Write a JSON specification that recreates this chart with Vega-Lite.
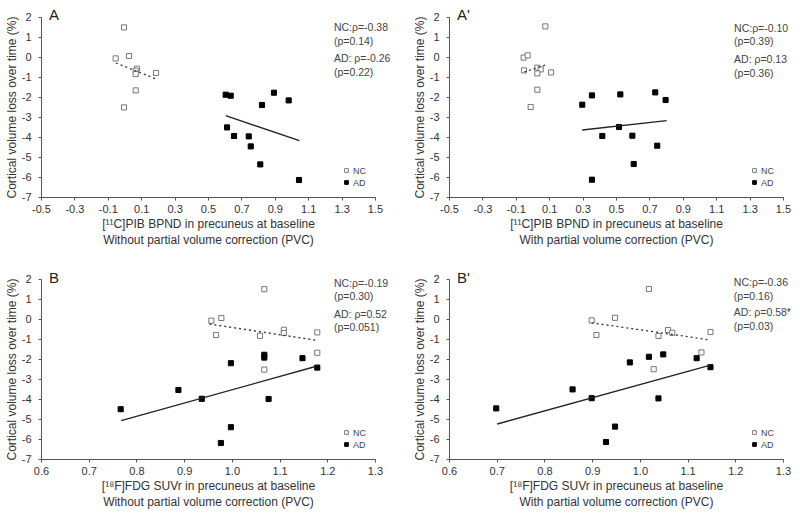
{
  "$schema": "https://vega.github.io/schema/vega-lite/v6.json",
  "background": "white",
  "padding": {"left": 5, "top": 8, "right": 5, "bottom": 5},
  "columns": 2,
  "bounds": "flush",
  "spacing": {"row": 82, "column": 74},
  "datasets": {
    "pts": [
      {"p": "A", "g": "NC", "x": -0.003, "y": 1.48},
      {"p": "A", "g": "NC", "x": -0.053, "y": -0.07},
      {"p": "A", "g": "NC", "x": 0.027, "y": 0.05},
      {"p": "A", "g": "NC", "x": 0.075, "y": -0.585},
      {"p": "A", "g": "NC", "x": 0.067, "y": -0.685},
      {"p": "A", "g": "NC", "x": 0.067, "y": -0.85},
      {"p": "A", "g": "NC", "x": 0.189, "y": -0.8},
      {"p": "A", "g": "NC", "x": 0.067, "y": -1.67},
      {"p": "A", "g": "NC", "x": -0.003, "y": -2.52},
      {"p": "A", "g": "AD", "x": 0.606, "y": -1.885},
      {"p": "A", "g": "AD", "x": 0.636, "y": -1.935},
      {"p": "A", "g": "AD", "x": 0.823, "y": -2.4},
      {"p": "A", "g": "AD", "x": 0.895, "y": -1.785},
      {"p": "A", "g": "AD", "x": 0.983, "y": -2.17},
      {"p": "A", "g": "AD", "x": 0.614, "y": -3.52},
      {"p": "A", "g": "AD", "x": 0.656, "y": -3.95},
      {"p": "A", "g": "AD", "x": 0.744, "y": -3.97},
      {"p": "A", "g": "AD", "x": 0.756, "y": -4.47},
      {"p": "A", "g": "AD", "x": 0.813, "y": -5.37},
      {"p": "A", "g": "AD", "x": 1.045, "y": -6.15},
      {"p": "A2", "g": "NC", "x": 0.077, "y": 1.53},
      {"p": "A2", "g": "NC", "x": -0.053, "y": -0.03},
      {"p": "A2", "g": "NC", "x": -0.029, "y": 0.08},
      {"p": "A2", "g": "NC", "x": -0.051, "y": -0.67},
      {"p": "A2", "g": "NC", "x": 0.029, "y": -0.535},
      {"p": "A2", "g": "NC", "x": 0.049, "y": -0.62},
      {"p": "A2", "g": "NC", "x": 0.029, "y": -0.82},
      {"p": "A2", "g": "NC", "x": 0.111, "y": -0.77},
      {"p": "A2", "g": "NC", "x": 0.029, "y": -1.635},
      {"p": "A2", "g": "NC", "x": -0.011, "y": -2.5},
      {"p": "A2", "g": "AD", "x": 0.298, "y": -2.385},
      {"p": "A2", "g": "AD", "x": 0.356, "y": -1.92},
      {"p": "A2", "g": "AD", "x": 0.526, "y": -1.87},
      {"p": "A2", "g": "AD", "x": 0.735, "y": -1.77},
      {"p": "A2", "g": "AD", "x": 0.797, "y": -2.15},
      {"p": "A2", "g": "AD", "x": 0.518, "y": -3.5},
      {"p": "A2", "g": "AD", "x": 0.418, "y": -3.95},
      {"p": "A2", "g": "AD", "x": 0.598, "y": -3.935},
      {"p": "A2", "g": "AD", "x": 0.747, "y": -4.435},
      {"p": "A2", "g": "AD", "x": 0.606, "y": -5.35},
      {"p": "A2", "g": "AD", "x": 0.356, "y": -6.135},
      {"p": "B", "g": "NC", "x": 1.068, "y": 1.49},
      {"p": "B", "g": "NC", "x": 0.957, "y": -0.085},
      {"p": "B", "g": "NC", "x": 0.978, "y": 0.05},
      {"p": "B", "g": "NC", "x": 0.967, "y": -0.8},
      {"p": "B", "g": "NC", "x": 1.059, "y": -0.84},
      {"p": "B", "g": "NC", "x": 1.109, "y": -0.54},
      {"p": "B", "g": "NC", "x": 1.109, "y": -0.7},
      {"p": "B", "g": "NC", "x": 1.179, "y": -0.67},
      {"p": "B", "g": "NC", "x": 1.179, "y": -1.69},
      {"p": "B", "g": "NC", "x": 1.068, "y": -2.53},
      {"p": "B", "g": "AD", "x": 0.767, "y": -4.51},
      {"p": "B", "g": "AD", "x": 0.888, "y": -3.55},
      {"p": "B", "g": "AD", "x": 0.937, "y": -3.99},
      {"p": "B", "g": "AD", "x": 0.998, "y": -2.21},
      {"p": "B", "g": "AD", "x": 0.998, "y": -5.41},
      {"p": "B", "g": "AD", "x": 0.977, "y": -6.2},
      {"p": "B", "g": "AD", "x": 1.068, "y": -1.79},
      {"p": "B", "g": "AD", "x": 1.068, "y": -1.93},
      {"p": "B", "g": "AD", "x": 1.148, "y": -1.96},
      {"p": "B", "g": "AD", "x": 1.179, "y": -2.43},
      {"p": "B", "g": "AD", "x": 1.077, "y": -4.0},
      {"p": "B2", "g": "NC", "x": 1.019, "y": 1.5},
      {"p": "B2", "g": "NC", "x": 0.899, "y": -0.07},
      {"p": "B2", "g": "NC", "x": 0.948, "y": 0.06},
      {"p": "B2", "g": "NC", "x": 0.909, "y": -0.8},
      {"p": "B2", "g": "NC", "x": 1.039, "y": -0.85},
      {"p": "B2", "g": "NC", "x": 1.059, "y": -0.55},
      {"p": "B2", "g": "NC", "x": 1.068, "y": -0.69},
      {"p": "B2", "g": "NC", "x": 1.148, "y": -0.65},
      {"p": "B2", "g": "NC", "x": 1.129, "y": -1.67},
      {"p": "B2", "g": "NC", "x": 1.029, "y": -2.51},
      {"p": "B2", "g": "AD", "x": 0.699, "y": -4.47},
      {"p": "B2", "g": "AD", "x": 0.859, "y": -3.52},
      {"p": "B2", "g": "AD", "x": 0.899, "y": -3.96},
      {"p": "B2", "g": "AD", "x": 0.979, "y": -2.17},
      {"p": "B2", "g": "AD", "x": 0.948, "y": -5.38},
      {"p": "B2", "g": "AD", "x": 0.929, "y": -6.15},
      {"p": "B2", "g": "AD", "x": 1.019, "y": -1.89},
      {"p": "B2", "g": "AD", "x": 1.049, "y": -1.77},
      {"p": "B2", "g": "AD", "x": 1.119, "y": -1.96},
      {"p": "B2", "g": "AD", "x": 1.148, "y": -2.41},
      {"p": "B2", "g": "AD", "x": 1.039, "y": -3.97}
    ],
    "fits": [
      {"p": "A", "g": "NC", "x": -0.051, "y": -0.3},
      {"p": "A", "g": "NC", "x": 0.189, "y": -1.1},
      {"p": "A", "g": "AD", "x": 0.606, "y": -2.935},
      {"p": "A", "g": "AD", "x": 1.047, "y": -4.185},
      {"p": "A2", "g": "NC", "x": -0.05, "y": -0.75},
      {"p": "A2", "g": "NC", "x": 0.09, "y": -0.37},
      {"p": "A2", "g": "AD", "x": 0.298, "y": -3.65},
      {"p": "A2", "g": "AD", "x": 0.803, "y": -3.185},
      {"p": "B", "g": "NC", "x": 0.953, "y": -0.25},
      {"p": "B", "g": "NC", "x": 1.181, "y": -1.075},
      {"p": "B", "g": "AD", "x": 0.768, "y": -5.08},
      {"p": "B", "g": "AD", "x": 1.179, "y": -2.35},
      {"p": "B2", "g": "NC", "x": 0.899, "y": -0.19},
      {"p": "B2", "g": "NC", "x": 1.148, "y": -1.05},
      {"p": "B2", "g": "AD", "x": 0.701, "y": -5.25},
      {"p": "B2", "g": "AD", "x": 1.148, "y": -2.31}
    ]
  },
  "concat": [
    {
      "width": 334, "height": 180,
      "layer": [
        {
          "data": {"name": "pts"},
          "transform": [{"filter": "datum.p === 'A'"}],
          "mark": {"type": "square", "size": 26, "opacity": 1, "strokeWidth": 1},
          "encoding": {
            "x": {"field": "x", "type": "quantitative", "scale": {"domain": [-0.5, 1.5], "nice": false, "zero": false},
                  "axis": {"values": [-0.5, -0.3, -0.1, 0.1, 0.3, 0.5, 0.7, 0.9, 1.1, 1.3, 1.5], "tickCount": 30, "format": ".1f", "labelOverlap": false, "title": ["[¹¹C]PIB BPND in precuneus at baseline", "Without partial volume correction (PVC)"]}},
            "y": {"field": "y", "type": "quantitative", "scale": {"domain": [-7, 2], "nice": false, "zero": false},
                  "axis": {"values": [-7, -6, -5, -4, -3, -2, -1, 0, 1, 2], "tickCount": 30, "format": "d", "labelOverlap": false, "title": "Cortical volume loss over time (%)"}},
            "fill": {"field": "g", "type": "nominal", "scale": {"domain": ["NC", "AD"], "range": ["white", "black"]}, "legend": {"title": null}},
            "stroke": {"field": "g", "type": "nominal", "scale": {"domain": ["NC", "AD"], "range": ["#777777", "black"]}, "legend": {"title": null}}
          }
        },
        {
          "data": {"name": "fits"},
          "transform": [{"filter": "datum.p === 'A' && datum.g === 'NC'"}],
          "mark": {"type": "line", "color": "#333333", "strokeWidth": 1.3, "strokeDash": [2, 3]},
          "encoding": {"x": {"field": "x", "type": "quantitative"}, "y": {"field": "y", "type": "quantitative"}}
        },
        {
          "data": {"name": "fits"},
          "transform": [{"filter": "datum.p === 'A' && datum.g === 'AD'"}],
          "mark": {"type": "line", "color": "#222222", "strokeWidth": 1.3},
          "encoding": {"x": {"field": "x", "type": "quantitative"}, "y": {"field": "y", "type": "quantitative"}}
        },
        {
          "data": {"values": [{}]},
          "mark": {"type": "text", "text": ["NC:ρ=-0.38", "(p=0.14)"], "align": "left", "baseline": "top", "fontSize": 10.5, "lineHeight": 13.5, "color": "#444444"},
          "encoding": {"x": {"datum": 1.254}, "y": {"datum": 1.685}}
        },
        {
          "data": {"values": [{}]},
          "mark": {"type": "text", "text": ["AD: ρ=-0.26", "(p=0.22)"], "align": "left", "baseline": "top", "fontSize": 10.5, "lineHeight": 13.5, "color": "#444444"},
          "encoding": {"x": {"datum": 1.254}, "y": {"datum": 0.15}}
        },
        {
          "data": {"values": [{}]},
          "mark": {"type": "text", "text": "A", "align": "left", "baseline": "alphabetic", "fontSize": 15, "color": "#222222"},
          "encoding": {"x": {"datum": -0.452}, "y": {"datum": 1.85}}
        }
      ]
    },
    {
      "width": 334, "height": 180,
      "layer": [
        {
          "data": {"name": "pts"},
          "transform": [{"filter": "datum.p === 'A2'"}],
          "mark": {"type": "square", "size": 26, "opacity": 1, "strokeWidth": 1},
          "encoding": {
            "x": {"field": "x", "type": "quantitative", "scale": {"domain": [-0.5, 1.5], "nice": false, "zero": false},
                  "axis": {"values": [-0.5, -0.3, -0.1, 0.1, 0.3, 0.5, 0.7, 0.9, 1.1, 1.3, 1.5], "tickCount": 30, "format": ".1f", "labelOverlap": false, "title": ["[¹¹C]PIB BPND in precuneus at baseline", "With partial volume correction (PVC)"]}},
            "y": {"field": "y", "type": "quantitative", "scale": {"domain": [-7, 2], "nice": false, "zero": false},
                  "axis": {"values": [-7, -6, -5, -4, -3, -2, -1, 0, 1, 2], "tickCount": 30, "format": "d", "labelOverlap": false, "title": "Cortical volume loss over time (%)"}},
            "fill": {"field": "g", "type": "nominal", "scale": {"domain": ["NC", "AD"], "range": ["white", "black"]}, "legend": {"title": null}},
            "stroke": {"field": "g", "type": "nominal", "scale": {"domain": ["NC", "AD"], "range": ["#777777", "black"]}, "legend": {"title": null}}
          }
        },
        {
          "data": {"name": "fits"},
          "transform": [{"filter": "datum.p === 'A2' && datum.g === 'NC'"}],
          "mark": {"type": "line", "color": "#333333", "strokeWidth": 1.3, "strokeDash": [2, 3]},
          "encoding": {"x": {"field": "x", "type": "quantitative"}, "y": {"field": "y", "type": "quantitative"}}
        },
        {
          "data": {"name": "fits"},
          "transform": [{"filter": "datum.p === 'A2' && datum.g === 'AD'"}],
          "mark": {"type": "line", "color": "#222222", "strokeWidth": 1.3},
          "encoding": {"x": {"field": "x", "type": "quantitative"}, "y": {"field": "y", "type": "quantitative"}}
        },
        {
          "data": {"values": [{}]},
          "mark": {"type": "text", "text": ["NC:ρ=-0.10", "(p=0.39)"], "align": "left", "baseline": "top", "fontSize": 10.5, "lineHeight": 13.5, "color": "#444444"},
          "encoding": {"x": {"datum": 1.207}, "y": {"datum": 1.675}}
        },
        {
          "data": {"values": [{}]},
          "mark": {"type": "text", "text": ["AD: ρ=0.13", "(p=0.36)"], "align": "left", "baseline": "top", "fontSize": 10.5, "lineHeight": 13.5, "color": "#444444"},
          "encoding": {"x": {"datum": 1.207}, "y": {"datum": 0.09}}
        },
        {
          "data": {"values": [{}]},
          "mark": {"type": "text", "text": "A'", "align": "left", "baseline": "alphabetic", "fontSize": 15, "color": "#222222"},
          "encoding": {"x": {"datum": -0.452}, "y": {"datum": 1.85}}
        }
      ]
    },
    {
      "width": 334, "height": 180,
      "layer": [
        {
          "data": {"name": "pts"},
          "transform": [{"filter": "datum.p === 'B'"}],
          "mark": {"type": "square", "size": 26, "opacity": 1, "strokeWidth": 1},
          "encoding": {
            "x": {"field": "x", "type": "quantitative", "scale": {"domain": [0.6, 1.3], "nice": false, "zero": false},
                  "axis": {"values": [0.6, 0.7, 0.8, 0.9, 1.0, 1.1, 1.2, 1.3], "tickCount": 30, "format": ".1f", "labelOverlap": false, "title": ["[¹⁸F]FDG SUVr in precuneus at baseline", "Without partial volume correction (PVC)"]}},
            "y": {"field": "y", "type": "quantitative", "scale": {"domain": [-7, 2], "nice": false, "zero": false},
                  "axis": {"values": [-7, -6, -5, -4, -3, -2, -1, 0, 1, 2], "tickCount": 30, "format": "d", "labelOverlap": false, "title": "Cortical volume loss over time (%)"}},
            "fill": {"field": "g", "type": "nominal", "scale": {"domain": ["NC", "AD"], "range": ["white", "black"]}, "legend": {"title": null}},
            "stroke": {"field": "g", "type": "nominal", "scale": {"domain": ["NC", "AD"], "range": ["#777777", "black"]}, "legend": {"title": null}}
          }
        },
        {
          "data": {"name": "fits"},
          "transform": [{"filter": "datum.p === 'B' && datum.g === 'NC'"}],
          "mark": {"type": "line", "color": "#333333", "strokeWidth": 1.3, "strokeDash": [2, 3]},
          "encoding": {"x": {"field": "x", "type": "quantitative"}, "y": {"field": "y", "type": "quantitative"}}
        },
        {
          "data": {"name": "fits"},
          "transform": [{"filter": "datum.p === 'B' && datum.g === 'AD'"}],
          "mark": {"type": "line", "color": "#222222", "strokeWidth": 1.3},
          "encoding": {"x": {"field": "x", "type": "quantitative"}, "y": {"field": "y", "type": "quantitative"}}
        },
        {
          "data": {"values": [{}]},
          "mark": {"type": "text", "text": ["NC:ρ=-0.19", "(p=0.30)"], "align": "left", "baseline": "top", "fontSize": 10.5, "lineHeight": 13.5, "color": "#444444"},
          "encoding": {"x": {"datum": 1.214}, "y": {"datum": 2.01}}
        },
        {
          "data": {"values": [{}]},
          "mark": {"type": "text", "text": ["AD: ρ=0.52", "(p=0.051)"], "align": "left", "baseline": "top", "fontSize": 10.5, "lineHeight": 13.5, "color": "#444444"},
          "encoding": {"x": {"datum": 1.214}, "y": {"datum": 0.46}}
        },
        {
          "data": {"values": [{}]},
          "mark": {"type": "text", "text": "B", "align": "left", "baseline": "alphabetic", "fontSize": 15, "color": "#222222"},
          "encoding": {"x": {"datum": 0.617}, "y": {"datum": 1.82}}
        }
      ]
    },
    {
      "width": 334, "height": 180,
      "layer": [
        {
          "data": {"name": "pts"},
          "transform": [{"filter": "datum.p === 'B2'"}],
          "mark": {"type": "square", "size": 26, "opacity": 1, "strokeWidth": 1},
          "encoding": {
            "x": {"field": "x", "type": "quantitative", "scale": {"domain": [0.6, 1.3], "nice": false, "zero": false},
                  "axis": {"values": [0.6, 0.7, 0.8, 0.9, 1.0, 1.1, 1.2, 1.3], "tickCount": 30, "format": ".1f", "labelOverlap": false, "title": ["[¹⁸F]FDG SUVr in precuneus at baseline", "With partial volume correction (PVC)"]}},
            "y": {"field": "y", "type": "quantitative", "scale": {"domain": [-7, 2], "nice": false, "zero": false},
                  "axis": {"values": [-7, -6, -5, -4, -3, -2, -1, 0, 1, 2], "tickCount": 30, "format": "d", "labelOverlap": false, "title": "Cortical volume loss over time (%)"}},
            "fill": {"field": "g", "type": "nominal", "scale": {"domain": ["NC", "AD"], "range": ["white", "black"]}, "legend": {"title": null}},
            "stroke": {"field": "g", "type": "nominal", "scale": {"domain": ["NC", "AD"], "range": ["#777777", "black"]}, "legend": {"title": null}}
          }
        },
        {
          "data": {"name": "fits"},
          "transform": [{"filter": "datum.p === 'B2' && datum.g === 'NC'"}],
          "mark": {"type": "line", "color": "#333333", "strokeWidth": 1.3, "strokeDash": [2, 3]},
          "encoding": {"x": {"field": "x", "type": "quantitative"}, "y": {"field": "y", "type": "quantitative"}}
        },
        {
          "data": {"name": "fits"},
          "transform": [{"filter": "datum.p === 'B2' && datum.g === 'AD'"}],
          "mark": {"type": "line", "color": "#222222", "strokeWidth": 1.3},
          "encoding": {"x": {"field": "x", "type": "quantitative"}, "y": {"field": "y", "type": "quantitative"}}
        },
        {
          "data": {"values": [{}]},
          "mark": {"type": "text", "text": ["NC:ρ=-0.36", "(p=0.16)"], "align": "left", "baseline": "top", "fontSize": 10.5, "lineHeight": 13.5, "color": "#444444"},
          "encoding": {"x": {"datum": 1.197}, "y": {"datum": 2.03}}
        },
        {
          "data": {"values": [{}]},
          "mark": {"type": "text", "text": ["AD: ρ=0.58*", "(p=0.03)"], "align": "left", "baseline": "top", "fontSize": 10.5, "lineHeight": 13.5, "color": "#444444"},
          "encoding": {"x": {"datum": 1.197}, "y": {"datum": 0.53}}
        },
        {
          "data": {"values": [{}]},
          "mark": {"type": "text", "text": "B'", "align": "left", "baseline": "alphabetic", "fontSize": 15, "color": "#222222"},
          "encoding": {"x": {"datum": 0.617}, "y": {"datum": 1.82}}
        }
      ]
    }
  ],
  "resolve": {
    "scale": {"x": "independent", "y": "independent", "fill": "independent", "stroke": "independent"},
    "legend": {"fill": "independent", "stroke": "independent"}
  },
  "config": {
    "font": "Liberation Sans",
    "view": {"stroke": null},
    "locale": {"number": {"decimal": ".", "thousands": ",", "grouping": [3], "currency": ["$", ""], "minus": "-"}},
    "axis": {
      "domainColor": "#555555", "tickColor": "#555555", "tickSize": 3, "grid": false,
      "labelFontSize": 11, "labelColor": "#333333", "labelFlush": false, "labelOverlap": false,
      "titleFontSize": 12, "titleFontWeight": "normal", "titleColor": "#333333"
    },
    "axisX": {"labelPadding": 3, "titlePadding": 4, "titleLineHeight": 16},
    "axisY": {"labelPadding": 7, "titlePadding": 3},
    "legend": {
      "orient": "bottom-right", "offset": 9, "padding": 0, "symbolType": "square", "symbolSize": 14,
      "symbolStrokeWidth": 1, "labelFontSize": 9, "labelColor": "#444444", "labelOffset": 2, "rowPadding": 2
    }
  }
}
